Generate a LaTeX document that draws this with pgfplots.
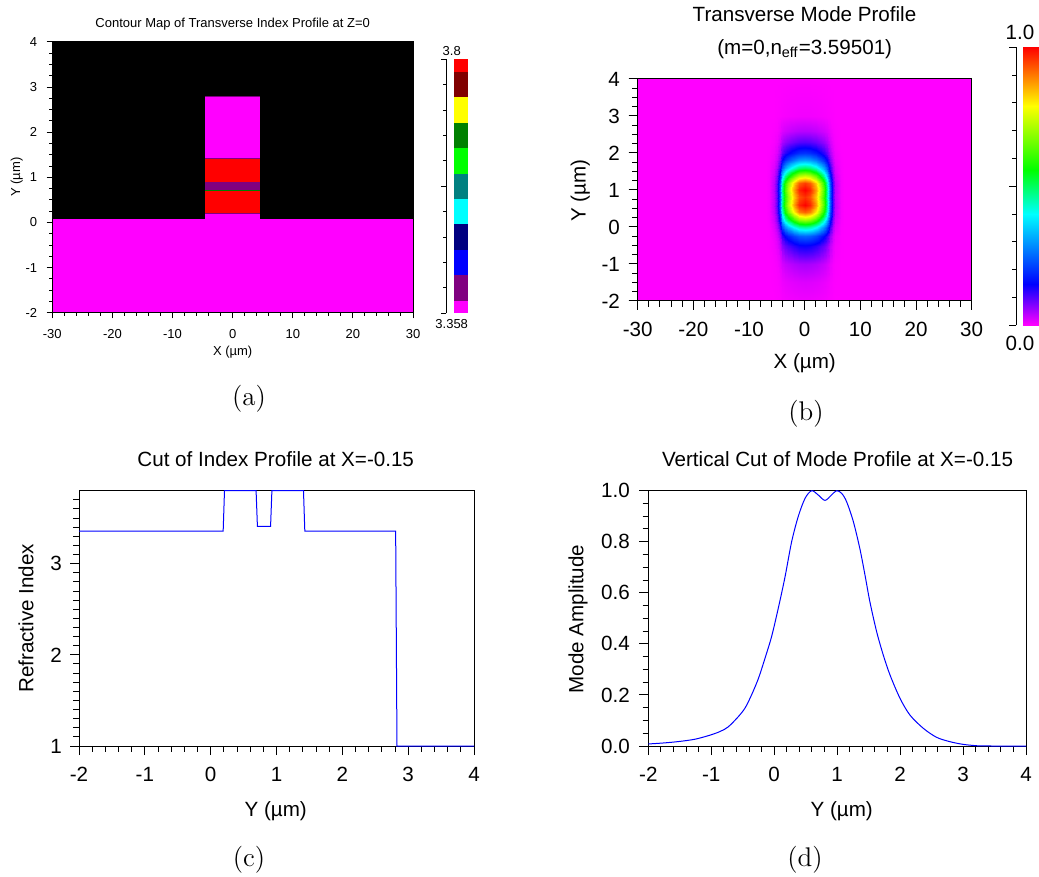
\documentclass[border=0pt]{standalone}
\usepackage{fontspec}
\usepackage{pgfplots}
\pgfplotsset{compat=1.18}
\newfontfamily\arial{Liberation Sans}
\definecolor{cmag}{RGB}{255,0,255}
\definecolor{cpur}{RGB}{128,0,128}
\definecolor{cblu}{RGB}{0,0,255}
\definecolor{cnav}{RGB}{0,0,128}
\definecolor{ccya}{RGB}{0,255,255}
\definecolor{ctea}{RGB}{0,128,128}
\definecolor{clim}{RGB}{0,255,0}
\definecolor{cgre}{RGB}{0,128,0}
\definecolor{cyel}{RGB}{255,255,0}
\definecolor{cmar}{RGB}{128,0,0}
\definecolor{cred}{RGB}{255,0,0}
\pgfplotsset{
  colormap={mode}{rgb255(0)=(255,0,255) rgb255(15)=(0,0,255) rgb255(40)=(0,255,255) rgb255(56)=(0,255,0) rgb255(79)=(255,255,0) rgb255(100)=(255,0,0)},
  panel/.style={scale only axis, anchor=north west, tick pos=left, tick align=outside, clip=false,
    /pgf/number format/assume math mode=true,
    axis line style={line width=0.5pt}, every tick/.style={black, line width=0.5pt}},
  big/.style={font=\arial\fontsize{10.3}{12.4}\selectfont, major tick length=4.5pt, minor tick length=2.8pt},
  cbar/.style={scale only axis, anchor=north west, axis x line=none, axis y line*=left,
    yticklabels={}, extra y tick labels={}, tick align=outside, clip=false,
    every tick/.style={black, line width=0.5pt}, axis line style={line width=0.5pt}},
}
\begin{document}
\begin{tikzpicture}
\useasboundingbox (0,0) rectangle (519.5pt,-438.5pt);
% ---------------- (a)
\begin{axis}[panel, at={(26.15pt,-21pt)}, width=180.35pt, height=135.35pt,
  font=\arial\fontsize{6.5}{7.8}\selectfont, major tick length=2.85pt, minor tick length=1.6pt,
  xmin=-30, xmax=30, ymin=-2, ymax=4, xtick={-30,-20,-10,0,10,20,30}, ytick={-2,-1,0,1,2,3,4},
  minor x tick num=4, minor y tick num=3,
  axis background/.style={fill=black}, axis on top,
  xticklabel shift=1.9pt, yticklabel shift=1.2pt,
  xlabel={X (µm)}, ylabel={Y (µm)},
  xlabel style={at={(axis description cs:0.5,-0.16)}, anchor=base},
  ylabel style={at={(axis description cs:-0.0895,0.501)}, anchor=base},
]
\addplot[fill=cmag, draw=none] coordinates {(-30,-2) (30,-2) (30,0.08) (-30,0.08)};
\addplot[fill=cmag, draw=none] coordinates {(-4.6,0) (4.6,0) (4.6,0.19) (-4.6,0.19)};
\addplot[fill=cred, draw=none] coordinates {(-4.6,0.19) (4.6,0.19) (4.6,0.70) (-4.6,0.70)};
\addplot[fill=cpur, draw=none] coordinates {(-4.6,0.70) (4.6,0.70) (4.6,0.905) (-4.6,0.905)};
\addplot[fill=cred, draw=none] coordinates {(-4.6,0.905) (4.6,0.905) (4.6,1.43) (-4.6,1.43)};
\addplot[fill=cmag, draw=none] coordinates {(-4.6,1.43) (4.6,1.43) (4.6,2.80) (-4.6,2.80)};
\addplot[cpur, line width=0.4pt] coordinates {(-4.6,2.80) (4.6,2.80)};
\addplot[cpur, line width=0.4pt] coordinates {(-4.6,1.43) (4.6,1.43)};
\addplot[cgre, line width=0.4pt] coordinates {(-4.6,0.70) (4.6,0.70)};
\addplot[cpur, line width=0.4pt] coordinates {(-4.6,0.19) (4.6,0.19)};
\node[anchor=base] at (axis description cs:0.5,1.0543) {Contour Map of Transverse Index Profile at Z=0};
\end{axis}
% colour scale (a)
\begin{axis}[cbar, at={(223pt,-29.65pt)}, width=11.15pt, height=127pt,
  xmin=-0.56, xmax=1, ymin=0, ymax=10, ytick={1,2,3,4,6,7,8,9}, major tick length=1.35pt,
  extra y ticks={0,5,10}, extra y tick style={major tick length=2.5pt},
  font=\arial\fontsize{6.5}{7.8}\selectfont]
\addplot[fill=cmag, draw=none] coordinates {(0,0) (1,0) (1,0.5) (0,0.5)};
\addplot[fill=cpur, draw=none] coordinates {(0,0.5) (1,0.5) (1,1.5) (0,1.5)};
\addplot[fill=cblu, draw=none] coordinates {(0,1.5) (1,1.5) (1,2.5) (0,2.5)};
\addplot[fill=cnav, draw=none] coordinates {(0,2.5) (1,2.5) (1,3.5) (0,3.5)};
\addplot[fill=ccya, draw=none] coordinates {(0,3.5) (1,3.5) (1,4.5) (0,4.5)};
\addplot[fill=ctea, draw=none] coordinates {(0,4.5) (1,4.5) (1,5.5) (0,5.5)};
\addplot[fill=clim, draw=none] coordinates {(0,5.5) (1,5.5) (1,6.5) (0,6.5)};
\addplot[fill=cgre, draw=none] coordinates {(0,6.5) (1,6.5) (1,7.5) (0,7.5)};
\addplot[fill=cyel, draw=none] coordinates {(0,7.5) (1,7.5) (1,8.5) (0,8.5)};
\addplot[fill=cmar, draw=none] coordinates {(0,8.5) (1,8.5) (1,9.5) (0,9.5)};
\addplot[fill=cred, draw=none] coordinates {(0,9.5) (1,9.5) (1,10) (0,10)};
\node[anchor=base] at (axis description cs:0.256,1.0169) {3.8};
\node[anchor=base] at (axis description cs:0.256,-0.0604) {3.358};
\end{axis}
% ---------------- (b)
\begin{axis}[panel, big, at={(318.85pt,-39.5pt)}, width=167pt, height=111pt,
  view={0}{90}, xmin=-30, xmax=30, ymin=-2, ymax=4, ztick=\empty,
  xtick={-30,-20,-10,0,10,20,30}, ytick={-2,-1,0,1,2,3,4},
  minor x tick num=4, minor y tick num=3, axis on top,
  colormap name=mode, point meta min=0, point meta max=1,
  xticklabel shift=2.4pt, yticklabel shift=0.9pt,
  xlabel={X (µm)}, ylabel={Y (µm)},
  xlabel style={at={(axis description cs:0.5,-0.3032)}, anchor=base},
  ylabel style={at={(axis description cs:-0.1557,0.4977)}, anchor=base},
]
\addplot3[surf, shader=interp, mesh/cols=23] table[row sep=\\] {
x y z\\
-30 -2 0\\ -7 -2 0\\ -6.5 -2 0\\ -5.5 -2 0\\ -5 -2 0.001\\ -4.5 -2 0.002\\ -4 -2 0.004\\ -3.5 -2 0.005\\ -3 -2 0.006\\ -2 -2 0.007\\ -1 -2 0.008\\ 0 -2 0.008\\ 1 -2 0.008\\ 2 -2 0.007\\ 3 -2 0.006\\ 3.5 -2 0.005\\ 4 -2 0.004\\ 4.5 -2 0.002\\ 5 -2 0.001\\ 5.5 -2 0\\ 6.5 -2 0\\ 7 -2 0\\ 30 -2 0\\
-30 -1.5 0\\ -7 -1.5 0\\ -6.5 -1.5 0\\ -5.5 -1.5 0.001\\ -5 -1.5 0.002\\ -4.5 -1.5 0.005\\ -4 -1.5 0.009\\ -3.5 -1.5 0.012\\ -3 -1.5 0.014\\ -2 -1.5 0.017\\ -1 -1.5 0.019\\ 0 -1.5 0.02\\ 1 -1.5 0.019\\ 2 -1.5 0.017\\ 3 -1.5 0.014\\ 3.5 -1.5 0.012\\ 4 -1.5 0.009\\ 4.5 -1.5 0.005\\ 5 -1.5 0.002\\ 5.5 -1.5 0.001\\ 6.5 -1.5 0\\ 7 -1.5 0\\ 30 -1.5 0\\
-30 -1 0\\ -7 -1 0\\ -6.5 -1 0\\ -5.5 -1 0.002\\ -5 -1 0.005\\ -4.5 -1 0.013\\ -4 -1 0.024\\ -3.5 -1 0.032\\ -3 -1 0.037\\ -2 -1 0.045\\ -1 -1 0.05\\ 0 -1 0.052\\ 1 -1 0.05\\ 2 -1 0.045\\ 3 -1 0.037\\ 3.5 -1 0.032\\ 4 -1 0.024\\ 4.5 -1 0.013\\ 5 -1 0.005\\ 5.5 -1 0.002\\ 6.5 -1 0\\ 7 -1 0\\ 30 -1 0\\
-30 -0.5 0\\ -7 -0.5 0\\ -6.5 -0.5 0.001\\ -5.5 -0.5 0.006\\ -5 -0.5 0.015\\ -4.5 -0.5 0.036\\ -4 -0.5 0.068\\ -3.5 -0.5 0.09\\ -3 -0.5 0.104\\ -2 -0.5 0.126\\ -1 -0.5 0.141\\ 0 -0.5 0.145\\ 1 -0.5 0.141\\ 2 -0.5 0.126\\ 3 -0.5 0.104\\ 3.5 -0.5 0.09\\ 4 -0.5 0.068\\ 4.5 -0.5 0.036\\ 5 -0.5 0.015\\ 5.5 -0.5 0.006\\ 6.5 -0.5 0.001\\ 7 -0.5 0\\ 30 -0.5 0\\
-30 -0.25 0\\ -7 -0.25 0\\ -6.5 -0.25 0.001\\ -5.5 -0.25 0.01\\ -5 -0.25 0.025\\ -4.5 -0.25 0.063\\ -4 -0.25 0.118\\ -3.5 -0.25 0.155\\ -3 -0.25 0.18\\ -2 -0.25 0.218\\ -1 -0.25 0.243\\ 0 -0.25 0.25\\ 1 -0.25 0.243\\ 2 -0.25 0.218\\ 3 -0.25 0.18\\ 3.5 -0.25 0.155\\ 4 -0.25 0.118\\ 4.5 -0.25 0.063\\ 5 -0.25 0.025\\ 5.5 -0.25 0.01\\ 6.5 -0.25 0.001\\ 7 -0.25 0\\ 30 -0.25 0\\
-30 0 0\\ -7 0 0\\ -6.5 0 0.002\\ -5.5 0 0.019\\ -5 0 0.047\\ -4.5 0 0.118\\ -4 0 0.221\\ -3.5 0 0.291\\ -3 0 0.338\\ -2 0 0.409\\ -1 0 0.456\\ 0 0 0.47\\ 1 0 0.456\\ 2 0 0.409\\ 3 0 0.338\\ 3.5 0 0.291\\ 4 0 0.221\\ 4.5 0 0.118\\ 5 0 0.047\\ 5.5 0 0.019\\ 6.5 0 0.002\\ 7 0 0\\ 30 0 0\\
-30 0.2 0\\ -7 0.2 0\\ -6.5 0.2 0.004\\ -5.5 0.2 0.028\\ -5 0.2 0.07\\ -4.5 0.2 0.175\\ -4 0.2 0.329\\ -3.5 0.2 0.434\\ -3 0.2 0.504\\ -2 0.2 0.609\\ -1 0.2 0.679\\ 0 0.2 0.7\\ 1 0.2 0.679\\ 2 0.2 0.609\\ 3 0.2 0.504\\ 3.5 0.2 0.434\\ 4 0.2 0.329\\ 4.5 0.2 0.175\\ 5 0.2 0.07\\ 5.5 0.2 0.028\\ 6.5 0.2 0.004\\ 7 0.2 0\\ 30 0.2 0\\
-30 0.4 0\\ -7 0.4 0\\ -6.5 0.4 0.005\\ -5.5 0.4 0.037\\ -5 0.4 0.092\\ -4.5 0.4 0.23\\ -4 0.4 0.432\\ -3.5 0.4 0.57\\ -3 0.4 0.662\\ -2 0.4 0.8\\ -1 0.4 0.892\\ 0 0.4 0.92\\ 1 0.4 0.892\\ 2 0.4 0.8\\ 3 0.4 0.662\\ 3.5 0.4 0.57\\ 4 0.4 0.432\\ 4.5 0.4 0.23\\ 5 0.4 0.092\\ 5.5 0.4 0.037\\ 6.5 0.4 0.005\\ 7 0.4 0\\ 30 0.4 0\\
-30 0.6 0\\ -7 0.6 0\\ -6.5 0.6 0.005\\ -5.5 0.6 0.04\\ -5 0.6 0.1\\ -4.5 0.6 0.25\\ -4 0.6 0.47\\ -3.5 0.6 0.62\\ -3 0.6 0.72\\ -2 0.6 0.87\\ -1 0.6 0.97\\ 0 0.6 1\\ 1 0.6 0.97\\ 2 0.6 0.87\\ 3 0.6 0.72\\ 3.5 0.6 0.62\\ 4 0.6 0.47\\ 4.5 0.6 0.25\\ 5 0.6 0.1\\ 5.5 0.6 0.04\\ 6.5 0.6 0.005\\ 7 0.6 0\\ 30 0.6 0\\
-30 0.8 0\\ -7 0.8 0\\ -6.5 0.8 0.005\\ -5.5 0.8 0.038\\ -5 0.8 0.096\\ -4.5 0.8 0.24\\ -4 0.8 0.451\\ -3.5 0.8 0.595\\ -3 0.8 0.691\\ -2 0.8 0.835\\ -1 0.8 0.931\\ 0 0.8 0.96\\ 1 0.8 0.931\\ 2 0.8 0.835\\ 3 0.8 0.691\\ 3.5 0.8 0.595\\ 4 0.8 0.451\\ 4.5 0.8 0.24\\ 5 0.8 0.096\\ 5.5 0.8 0.038\\ 6.5 0.8 0.005\\ 7 0.8 0\\ 30 0.8 0\\
-30 1 0\\ -7 1 0\\ -6.5 1 0.005\\ -5.5 1 0.04\\ -5 1 0.1\\ -4.5 1 0.25\\ -4 1 0.47\\ -3.5 1 0.62\\ -3 1 0.72\\ -2 1 0.87\\ -1 1 0.97\\ 0 1 1\\ 1 1 0.97\\ 2 1 0.87\\ 3 1 0.72\\ 3.5 1 0.62\\ 4 1 0.47\\ 4.5 1 0.25\\ 5 1 0.1\\ 5.5 1 0.04\\ 6.5 1 0.005\\ 7 1 0\\ 30 1 0\\
-30 1.2 0\\ -7 1.2 0\\ -6.5 1.2 0.005\\ -5.5 1.2 0.038\\ -5 1.2 0.095\\ -4.5 1.2 0.238\\ -4 1.2 0.447\\ -3.5 1.2 0.589\\ -3 1.2 0.684\\ -2 1.2 0.827\\ -1 1.2 0.922\\ 0 1.2 0.95\\ 1 1.2 0.922\\ 2 1.2 0.827\\ 3 1.2 0.684\\ 3.5 1.2 0.589\\ 4 1.2 0.447\\ 4.5 1.2 0.238\\ 5 1.2 0.095\\ 5.5 1.2 0.038\\ 6.5 1.2 0.005\\ 7 1.2 0\\ 30 1.2 0\\
-30 1.4 0\\ -7 1.4 0\\ -6.5 1.4 0.004\\ -5.5 1.4 0.029\\ -5 1.4 0.072\\ -4.5 1.4 0.18\\ -4 1.4 0.338\\ -3.5 1.4 0.446\\ -3 1.4 0.518\\ -2 1.4 0.626\\ -1 1.4 0.698\\ 0 1.4 0.72\\ 1 1.4 0.698\\ 2 1.4 0.626\\ 3 1.4 0.518\\ 3.5 1.4 0.446\\ 4 1.4 0.338\\ 4.5 1.4 0.18\\ 5 1.4 0.072\\ 5.5 1.4 0.029\\ 6.5 1.4 0.004\\ 7 1.4 0\\ 30 1.4 0\\
-30 1.6 0\\ -7 1.6 0\\ -6.5 1.6 0.003\\ -5.5 1.6 0.02\\ -5 1.6 0.05\\ -4.5 1.6 0.125\\ -4 1.6 0.235\\ -3.5 1.6 0.31\\ -3 1.6 0.36\\ -2 1.6 0.435\\ -1 1.6 0.485\\ 0 1.6 0.5\\ 1 1.6 0.485\\ 2 1.6 0.435\\ 3 1.6 0.36\\ 3.5 1.6 0.31\\ 4 1.6 0.235\\ 4.5 1.6 0.125\\ 5 1.6 0.05\\ 5.5 1.6 0.02\\ 6.5 1.6 0.003\\ 7 1.6 0\\ 30 1.6 0\\
-30 1.8 0\\ -7 1.8 0\\ -6.5 1.8 0.002\\ -5.5 1.8 0.012\\ -5 1.8 0.031\\ -4.5 1.8 0.078\\ -4 1.8 0.146\\ -3.5 1.8 0.192\\ -3 1.8 0.223\\ -2 1.8 0.27\\ -1 1.8 0.301\\ 0 1.8 0.31\\ 1 1.8 0.301\\ 2 1.8 0.27\\ 3 1.8 0.223\\ 3.5 1.8 0.192\\ 4 1.8 0.146\\ 4.5 1.8 0.078\\ 5 1.8 0.031\\ 5.5 1.8 0.012\\ 6.5 1.8 0.002\\ 7 1.8 0\\ 30 1.8 0\\
-30 2 0\\ -7 2 0\\ -6.5 2 0.001\\ -5.5 2 0.008\\ -5 2 0.02\\ -4.5 2 0.05\\ -4 2 0.094\\ -3.5 2 0.124\\ -3 2 0.144\\ -2 2 0.174\\ -1 2 0.194\\ 0 2 0.2\\ 1 2 0.194\\ 2 2 0.174\\ 3 2 0.144\\ 3.5 2 0.124\\ 4 2 0.094\\ 4.5 2 0.05\\ 5 2 0.02\\ 5.5 2 0.008\\ 6.5 2 0.001\\ 7 2 0\\ 30 2 0\\
-30 2.3 0\\ -7 2.3 0\\ -6.5 2.3 0\\ -5.5 2.3 0.004\\ -5 2.3 0.01\\ -4.5 2.3 0.025\\ -4 2.3 0.047\\ -3.5 2.3 0.062\\ -3 2.3 0.072\\ -2 2.3 0.087\\ -1 2.3 0.097\\ 0 2.3 0.1\\ 1 2.3 0.097\\ 2 2.3 0.087\\ 3 2.3 0.072\\ 3.5 2.3 0.062\\ 4 2.3 0.047\\ 4.5 2.3 0.025\\ 5 2.3 0.01\\ 5.5 2.3 0.004\\ 6.5 2.3 0\\ 7 2.3 0\\ 30 2.3 0\\
-30 2.6 0\\ -7 2.6 0\\ -6.5 2.6 0\\ -5.5 2.6 0.002\\ -5 2.6 0.004\\ -4.5 2.6 0.011\\ -4 2.6 0.02\\ -3.5 2.6 0.026\\ -3 2.6 0.03\\ -2 2.6 0.037\\ -1 2.6 0.041\\ 0 2.6 0.042\\ 1 2.6 0.041\\ 2 2.6 0.037\\ 3 2.6 0.03\\ 3.5 2.6 0.026\\ 4 2.6 0.02\\ 4.5 2.6 0.011\\ 5 2.6 0.004\\ 5.5 2.6 0.002\\ 6.5 2.6 0\\ 7 2.6 0\\ 30 2.6 0\\
-30 3 0\\ -7 3 0\\ -6.5 3 0\\ -5.5 3 0\\ -5 3 0.001\\ -4.5 3 0.002\\ -4 3 0.003\\ -3.5 3 0.004\\ -3 3 0.005\\ -2 3 0.006\\ -1 3 0.007\\ 0 3 0.007\\ 1 3 0.007\\ 2 3 0.006\\ 3 3 0.005\\ 3.5 3 0.004\\ 4 3 0.003\\ 4.5 3 0.002\\ 5 3 0.001\\ 5.5 3 0\\ 6.5 3 0\\ 7 3 0\\ 30 3 0\\
-30 4 0\\ -7 4 0\\ -6.5 4 0\\ -5.5 4 0\\ -5 4 0\\ -4.5 4 0\\ -4 4 0\\ -3.5 4 0\\ -3 4 0\\ -2 4 0\\ -1 4 0\\ 0 4 0\\ 1 4 0\\ 2 4 0\\ 3 4 0\\ 3.5 4 0\\ 4 4 0\\ 4.5 4 0\\ 5 4 0\\ 5.5 4 0\\ 6.5 4 0\\ 7 4 0\\ 30 4 0\\
};
\node[anchor=base] at (axis description cs:0.4994,1.2581) {Transverse Mode Profile};
\node[anchor=base] at (axis description cs:0.5,1.1113) {(m=0,n\textsubscript{eff}=3.59501)};
\end{axis}
% colour scale (b): bar
\begin{axis}[scale only axis, anchor=north west, at={(511.5pt,-23.65pt)}, width=7.5pt, height=139pt,
  hide axis, view={0}{90}, xmin=0, xmax=1, ymin=0, ymax=1, clip=false,
  colormap name=mode, point meta min=0, point meta max=1,
  font=\arial\fontsize{10.3}{12.4}\selectfont]
\addplot3[surf, shader=interp, mesh/cols=2] table[row sep=\\] {
x y z\\ 0 0 0\\ 1 0 0\\ 0 0.15 0.15\\ 1 0.15 0.15\\ 0 0.4 0.4\\ 1 0.4 0.4\\ 0 0.56 0.56\\ 1 0.56 0.56\\ 0 0.79 0.79\\ 1 0.79 0.79\\ 0 1 1\\ 1 1 1\\
};
\node[anchor=base] at (axis description cs:-0.2,1.0288) {1.0};
\node[anchor=base] at (axis description cs:-0.2,-0.0914) {0.0};
\end{axis}
% colour scale (b): scale line
\begin{axis}[cbar, at={(508pt,-23.65pt)}, width=2pt, height=139pt,
  xmin=0, xmax=1, ymin=0, ymax=1, ytick={0.1,0.2,0.3,0.4,0.6,0.7,0.8,0.9}, major tick length=1.85pt,
  extra y ticks={0,0.5,1}, extra y tick style={major tick length=3.5pt}]
\addplot[draw=none] coordinates {(0,0) (1,1)};
\end{axis}
% ---------------- (c)
\begin{axis}[panel, big, at={(39.5pt,-245.35pt)}, width=197.5pt, height=127.65pt,
  xmin=-2, xmax=4, ymin=1, ymax=3.8, xtick={-2,-1,0,1,2,3,4}, ytick={1,2,3},
  minor x tick num=4,
  minor ytick={1.1,1.2,1.3,1.4,1.5,1.6,1.7,1.8,1.9,2.1,2.2,2.3,2.4,2.5,2.6,2.7,2.8,2.9,3.1,3.2,3.3,3.4,3.5,3.6,3.7},
  xticklabel shift=2.4pt, yticklabel shift=0.6pt,
  xlabel={Y (µm)}, ylabel={Refractive Index},
  xlabel style={at={(axis description cs:0.498,-0.2742)}, anchor=base},
  ylabel style={at={(axis description cs:-0.1157,0.5002)}, anchor=base},
]
\addplot[cblu, line width=0.5pt] coordinates {(-2,3.358) (0.19,3.358) (0.21,3.8) (0.69,3.8) (0.71,3.41) (0.91,3.41) (0.93,3.8) (1.41,3.8) (1.43,3.358) (2.81,3.358) (2.83,1) (4,1)};
\node[anchor=base] at (axis description cs:0.498,1.0967) {Cut of Index Profile at X=-0.15};
\end{axis}
% ---------------- (d)
\begin{axis}[panel, big, at={(324.15pt,-245.35pt)}, width=188.85pt, height=127.65pt,
  xmin=-2, xmax=4, ymin=0, ymax=1, xtick={-2,-1,0,1,2,3,4}, ytick={0,0.2,0.4,0.6,0.8,1},
  minor x tick num=4, minor y tick num=3,
  yticklabel style={/pgf/number format/fixed, /pgf/number format/fixed zerofill, /pgf/number format/precision=1},
  xticklabel shift=2.4pt, yticklabel shift=1.2pt,
  xlabel={Y (µm)}, ylabel={Mode Amplitude},
  xlabel style={at={(axis description cs:0.512,-0.2742)}, anchor=base},
  ylabel style={at={(axis description cs:-0.1721,0.497)}, anchor=base},
]
\addplot[cblu, line width=0.5pt, smooth, tension=0.5] coordinates {(-2,0.008) (-1.75,0.012) (-1.5,0.018) (-1.25,0.027) (-1,0.044) (-0.85,0.058) (-0.73,0.075) (-0.57,0.115) (-0.46,0.15) (-0.36,0.2) (-0.25,0.265) (-0.147,0.343) (-0.04,0.43) (0.065,0.54) (0.17,0.66) (0.277,0.8) (0.383,0.9) (0.49,0.97) (0.595,1.0) (0.7,0.983) (0.807,0.962) (0.91,0.983) (0.99,1.0) (1.07,0.99) (1.15,0.957) (1.256,0.88) (1.36,0.774) (1.442,0.67) (1.52,0.565) (1.627,0.448) (1.733,0.356) (1.84,0.278) (1.998,0.187) (2.157,0.121) (2.37,0.069) (2.58,0.034) (2.79,0.017) (3.0,0.0065) (3.22,0.001) (3.45,0) (4,0)};
\node[anchor=base] at (axis description cs:0.501,1.0967) {Vertical Cut of Mode Profile at X=-0.15};
\end{axis}
% captions
\node[font=\fontsize{13.5}{16}\selectfont, anchor=base] at (124.5pt,-202.65pt) {(a)};
\node[font=\fontsize{13.5}{16}\selectfont, anchor=base] at (403pt,-210.15pt) {(b)};
\node[font=\fontsize{13.5}{16}\selectfont, anchor=base] at (124.5pt,-433.3pt) {(c)};
\node[font=\fontsize{13.5}{16}\selectfont, anchor=base] at (402.5pt,-433.3pt) {(d)};
\end{tikzpicture}
\end{document}
